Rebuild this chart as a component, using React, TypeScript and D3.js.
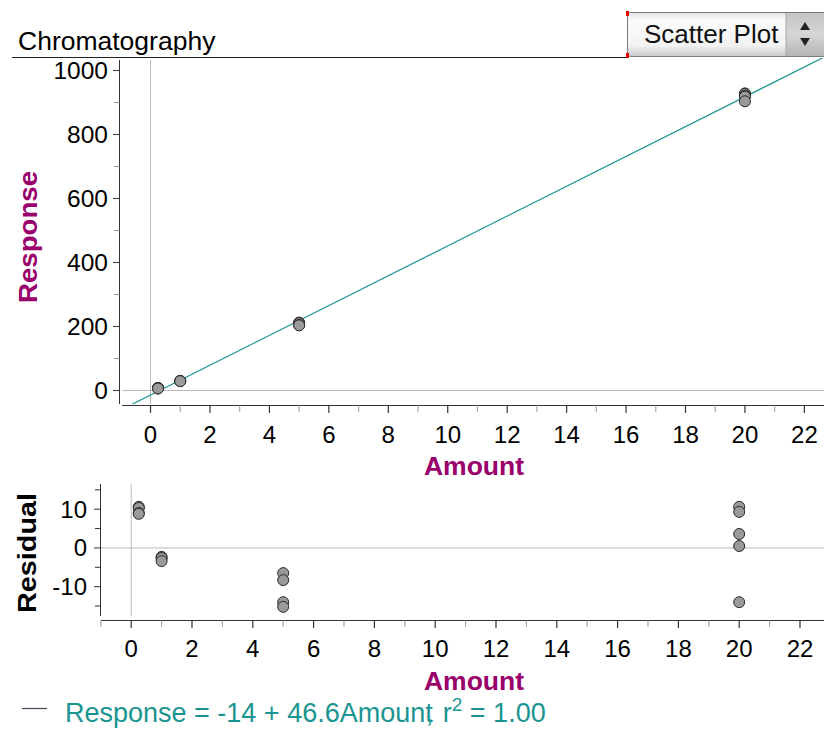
import React from "react";
import * as d3 from "d3";

const amounts = [0.25, 0.25, 0.25, 0.25, 1, 1, 1, 5, 5, 5, 5, 20, 20, 20, 20, 20];
const responses = [8.25, 7.95, 6.65, 6.45, 30.3, 30.0, 29.2, 212.5, 210.7, 205, 203.8, 928.6, 927.3, 921.6, 918.5, 904];
const intercept = -14;
const slope = 46.6;
const rSquared = "1.00";
const xMajorTicks = [0, 2, 4, 6, 8, 10, 12, 14, 16, 18, 20, 22];
const xMinorTicks = [-1, 1, 3, 5, 7, 9, 11, 13, 15, 17, 19, 21];
const yMajorTicks = [0, 200, 400, 600, 800, 1000];
const yMinorTicks = [100, 300, 500, 700, 900];
const rMajorTicks = [-10, 0, 10];
const rMinorTicks = [-15, -5, 5, 15];

const FONT = "'Liberation Sans', Arial, Helvetica, sans-serif";
const PURPLE = "#99006b";
const TEAL = "#1a9490";
const AXIS = "#333";
const REF = "#b8b8b8";

export default function App() {
  // Top plot
  const tL = 122, tR = 824, tT = 58, tB = 404;
  const x = d3.scaleLinear().domain([-0.96, 22.66]).range([tL, tR]);
  const y = d3.scaleLinear().domain([-42, 1040]).range([tB, tB - 1082 * 0.32]);

  // Residual plot
  const rL = 101, rR = 824, rT = 484, rB = 620;
  const rx = d3.scaleLinear().domain([-0.97, 22.8]).range([rL + 0.7, rL + 0.7 + 23.77 * 30.4]);
  const ry = d3.scaleLinear().domain([-18.6, 16.5]).range([rB, rT]);

  const pts = amounts.map((a, i) => ({ a, r: responses[i], res: responses[i] - (intercept + slope * a) }));
  const lineFn = d3.line<number>().x((d) => x(d)).y((d) => y(intercept + slope * d));
  const lineXs = [x.domain()[0], x.domain()[1]];

  return (
    <div style={{ position: "absolute", left: 0, top: 0 }}>
      <svg width={824} height={729} style={{ display: "block", fontFamily: FONT }}>
        <defs>
          <clipPath id="topClip">
            <rect x={tL} y={tT} width={tR - tL} height={tB - tT} />
          </clipPath>
          <linearGradient id="btnGrad" x1="0" y1="0" x2="0" y2="1">
            <stop offset="0" stopColor="#e4e4e4" />
            <stop offset="0.2" stopColor="#fbfbfb" />
            <stop offset="0.75" stopColor="#f2f2f2" />
            <stop offset="1" stopColor="#c8c8c8" />
          </linearGradient>
          <linearGradient id="arrGrad" x1="0" y1="0" x2="0" y2="1">
            <stop offset="0" stopColor="#c4c4c4" />
            <stop offset="0.5" stopColor="#d6d6d6" />
            <stop offset="1" stopColor="#b4b4b4" />
          </linearGradient>
        </defs>
        <rect width={824} height={729} fill="#fff" />

        {/* Title */}
        <text x={18} y={50} fontSize={26.5} fill="#000">Chromatography</text>
        <line x1={12} x2={628} y1={57.5} y2={57.5} stroke="#222" strokeWidth={1} />

        {/* Dropdown */}
        <rect x={627.5} y={12.5} width={200} height={44} rx={3} fill="url(#btnGrad)" stroke="#7a7a7a" />
        <rect x={786} y={13} width={38} height={43} fill="url(#arrGrad)" />
        <line x1={786} x2={786} y1={13} y2={56} stroke="#aaa" />
        <text x={644} y={43} fontSize={26} fill="#111">Scatter Plot</text>
        <path d="M805,22 L810,30 L800,30 Z" fill="#222" />
        <path d="M800,38 L810,38 L805,46 Z" fill="#222" />
        <rect x={626} y={11} width={3} height={5} fill="#e00" />
        <rect x={626} y={53} width={3} height={5} fill="#e00" />

        {/* Top plot reference lines */}
        <line x1={x(0)} x2={x(0)} y1={60} y2={tB} stroke={REF} />
        <line x1={tL} x2={tR} y1={y(0)} y2={y(0)} stroke={REF} />

        {/* Regression line */}
        <path d={lineFn(lineXs) || ""} fill="none" stroke={TEAL} strokeWidth={1.2} clipPath="url(#topClip)" />

        {/* Top points */}
        {pts.map((p, i) => (
          <circle key={i} cx={x(p.a)} cy={y(p.r)} r={5.5} fill="#9a9a9a" stroke="#2a2a2a" strokeWidth={1} />
        ))}

        {/* Top axes */}
        <line x1={119.5} x2={119.5} y1={60} y2={tB} stroke={AXIS} />
        <line x1={tL} x2={tR} y1={405.5} y2={405.5} stroke={AXIS} />
        {yMajorTicks.map((t) => (
          <g key={"ym" + t}>
            <line x1={113} x2={119.5} y1={y(t)} y2={y(t)} stroke={AXIS} />
            <text x={108} y={y(t)} dy="0.35em" textAnchor="end" fontSize={24.5}>{t}</text>
          </g>
        ))}
        {yMinorTicks.map((t) => (
          <line key={"yn" + t} x1={114} x2={119.5} y1={y(t)} y2={y(t)} stroke="#999" />
        ))}
        {xMajorTicks.map((t) => (
          <g key={"xm" + t}>
            <line x1={x(t)} x2={x(t)} y1={405.5} y2={413} stroke={AXIS} strokeWidth={1.2} />
            <text x={x(t)} y={443} textAnchor="middle" fontSize={24}>{t}</text>
          </g>
        ))}
        {xMinorTicks.filter((t) => x(t) >= tL).map((t) => (
          <line key={"xn" + t} x1={x(t)} x2={x(t)} y1={405.5} y2={412} stroke="#aaa" strokeWidth={1.2} />
        ))}
        <text x={474} y={475} textAnchor="middle" fontSize={26.5} fontWeight="bold" fill={PURPLE}>Amount</text>
        <text transform="translate(37,237) rotate(-90)" textAnchor="middle" fontSize={26} fontWeight="bold" fill={PURPLE} textLength={132} lengthAdjust="spacingAndGlyphs">Response</text>

        {/* Residual plot */}
        <line x1={rx(0)} x2={rx(0)} y1={rT} y2={616} stroke={REF} />
        <line x1={rL} x2={rR} y1={ry(0)} y2={ry(0)} stroke={REF} />
        {pts.map((p, i) => (
          <circle key={"r" + i} cx={rx(p.a)} cy={ry(p.res)} r={5.5} fill="#9a9a9a" stroke="#2a2a2a" strokeWidth={1} />
        ))}
        <line x1={100.5} x2={100.5} y1={rT} y2={616} stroke={AXIS} />
        <line x1={rL} x2={rR} y1={620.5} y2={620.5} stroke={AXIS} />
        {rMajorTicks.map((t) => (
          <g key={"rm" + t}>
            <line x1={94} x2={100.5} y1={ry(t)} y2={ry(t)} stroke={AXIS} />
            <text x={87} y={ry(t)} dy="0.35em" textAnchor="end" fontSize={24}>{t}</text>
          </g>
        ))}
        {rMinorTicks.map((t) => (
          <line key={"rn" + t} x1={95} x2={100.5} y1={ry(t)} y2={ry(t)} stroke={AXIS} />
        ))}
        {xMajorTicks.map((t) => (
          <g key={"rxm" + t}>
            <line x1={rx(t)} x2={rx(t)} y1={620.5} y2={628} stroke={AXIS} strokeWidth={1.2} />
            <text x={rx(t)} y={657} textAnchor="middle" fontSize={24}>{t}</text>
          </g>
        ))}
        {xMinorTicks.map((t) => (
          <line key={"rxn" + t} x1={rx(t)} x2={rx(t)} y1={620.5} y2={627} stroke="#aaa" strokeWidth={1.2} />
        ))}
        <text x={474} y={690} textAnchor="middle" fontSize={26.5} fontWeight="bold" fill={PURPLE}>Amount</text>
        <text transform="translate(36,553) rotate(-90)" textAnchor="middle" fontSize={26} fontWeight="bold" fill="#000" textLength={120} lengthAdjust="spacingAndGlyphs">Residual</text>

        {/* Equation */}
        <line x1={22} x2={47} y1={708.5} y2={708.5} stroke="#445" strokeWidth={1.2} />
        <text x={65} y={722} fontSize={27} fill={TEAL}>
          {`Response = ${intercept} + ${slope}Amount`}
          <tspan dx={-7}>,</tspan>
          <tspan dx={2}> r</tspan>
          <tspan dy={-11} fontSize={19}>2</tspan>
          <tspan dy={11}>{` = ${rSquared}`}</tspan>
        </text>
      </svg>
    </div>
  );
}
